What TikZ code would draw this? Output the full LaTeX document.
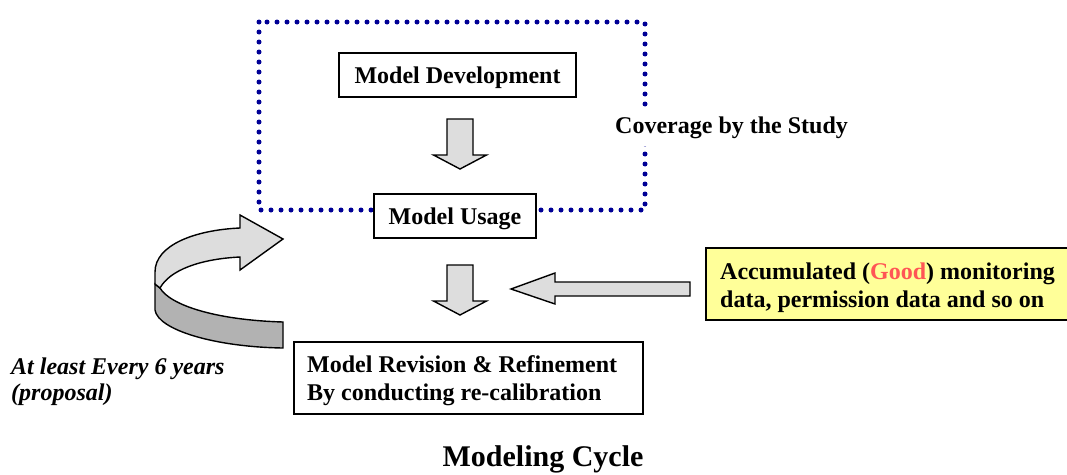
\documentclass[tikz,border=0pt]{standalone}
\usepackage{fontspec}
\setmainfont{Liberation Serif}
\definecolor{covblue}{RGB}{0,0,150}
\definecolor{arrowgray}{RGB}{221,221,221}
\definecolor{ribbondark}{RGB}{178,178,178}
\definecolor{noteyellow}{RGB}{255,255,153}
\definecolor{goodred}{RGB}{255,85,85}
\begin{document}
\begin{tikzpicture}[x=1pt,y=-1pt,
  txt/.style={font=\fontsize{24}{28}\selectfont\bfseries,inner sep=0pt},
  frame/.style={draw=black,line width=2pt,fill=white,inner sep=0pt},
  box/.style={txt,frame,text height=19pt,text depth=3pt},
  blockarrow/.style={draw=black,line width=1.4pt,fill=arrowgray,line join=miter},
  coverage/.style={draw=covblue,line width=5pt,line cap=round,dash pattern=on 0pt off 10pt},
  downarrow/.pic={\draw[blockarrow] (-13,0) -- (13,0) -- (13,36) -- (26.5,36)
      -- (0,50) -- (-26.5,36) -- (-13,36) -- cycle;}]
\clip (0,0) rectangle (1067,474);
\fill[white] (0,0) rectangle (1067,474);

% area covered by the study
\draw[coverage] (259,22) rectangle (645,210);
\node[txt,fill=white,inner xsep=4pt,inner ysep=8pt,anchor=base west] (cov) at (611,133) {Coverage by the Study};

% boxes of the cycle (multi-line texts are placed by the baseline of their last line)
\node[box,minimum width=237pt,minimum height=44pt] (dev) at (457.5,75) {Model Development};
\node[box,minimum width=162pt,minimum height=44pt] (use) at (455,216) {Model Usage};
\node[frame,minimum width=349pt,minimum height=72pt,anchor=north west] (rev) at (293,341) {};
\node[txt,align=left,anchor=base west] (revtext) at (307,400)
  {Model Revision \& Refinement\\By conducting re-calibration};
\node[frame,fill=noteyellow,minimum width=380pt,minimum height=72pt,anchor=north west] (data) at (705,247) {};
\node[txt,align=left,anchor=base west] (datatext) at (720,307)
  {Accumulated (\textcolor{goodred}{Good}) monitoring\\data, permission data and so on};

% block arrows
\pic at (460,119) {downarrow};
\pic at (460,265) {downarrow};
\draw[blockarrow] (690,282) -- (555,282) -- (555,273) -- (511,289) -- (555,304)
  -- (555,296) -- (690,296) -- cycle;

% curved ribbon arrow: back face, then front face
\draw[blockarrow,fill=ribbondark] (155,284) -- (155,310) .. controls (158,330) and (215,347) .. (283,348)
  -- (283,322) .. controls (215,320) and (170,305) .. (160,288) -- cycle;
\draw[blockarrow] (155,284) -- (155,272) .. controls (155,245) and (195,230) .. (240,228)
  -- (240,215) -- (283,239) -- (240,270) -- (240,257) .. controls (200,259) and (170,270) .. (160,288) -- cycle;

% labels
\node[txt,anchor=base west,align=left,font=\fontsize{24}{25.5}\selectfont\bfseries\itshape]
  (period) at (11,400) {At least Every 6 years\\(proposal)};
\node[txt,anchor=base,font=\fontsize{30}{34}\selectfont\bfseries] (title) at (543,466) {Modeling Cycle};
\end{tikzpicture}
\end{document}
